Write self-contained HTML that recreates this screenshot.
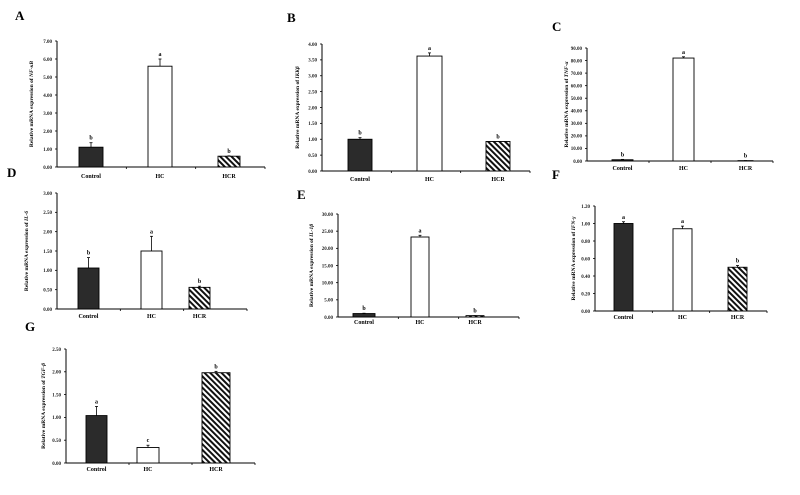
<!DOCTYPE html>
<html><head><meta charset="utf-8"><style>
html,body{margin:0;padding:0;background:#fff;}
svg{display:block;font-family:"Liberation Serif",serif;}
</style></head><body>
<svg id="s" width="800" height="495" viewBox="0 0 800 495" xmlns="http://www.w3.org/2000/svg">
<defs>
<pattern id="h" patternUnits="userSpaceOnUse" width="4" height="4" patternTransform="rotate(-45)">
<rect width="4" height="4" fill="#fff"/><rect width="2" height="4" fill="#111"/>
</pattern>
</defs>
</svg>
<script>
var P=[
{L:'A',lx:15,ly:20,ax:57,yt:41,y0:167,max:7,step:1,dec:2,xe:265,ty:33,tt:'NF-κB',cy:178,
 bars:[[79,103,1.1,0.25,'b'],[148,172,5.6,0.4,'a'],[218,240,0.6,0.02,'b']]},
{L:'B',lx:287,ly:22,ax:322,yt:44,y0:171,max:4,step:0.5,dec:2,xe:530,ty:299,tt:'IKKβ',cy:181,
 bars:[[348,372,1.0,0.05,'b'],[417,442,3.62,0.1,'a'],[486,510,0.93,0,'b']]},
{L:'C',lx:552,ly:31,ax:587,yt:48,y0:161,max:90,step:10,dec:2,xe:773,ty:568,tt:'TNF-α',cy:170,
 bars:[[612,633,1,0.3,'b'],[673,694,82,1,'a'],[738,753,0.3,0,'b']]},
{L:'D',lx:7,ly:177,ax:57,yt:193,y0:309,max:3,step:0.5,dec:2,xe:247,ty:28,tt:'IL-6',cy:318,
 bars:[[78,99,1.06,0.27,'b'],[141,162,1.5,0.38,'a'],[189,210,0.56,0.03,'b']]},
{L:'E',lx:297,ly:199,ax:338,yt:214,y0:317,max:30,step:5,dec:2,xe:519,ty:313,tt:'IL-1β',cy:324,
 bars:[[353,375,1,0.1,'b'],[411,429,23.3,0.5,'a'],[466,484,0.4,0,'b']]},
{L:'F',lx:552,ly:179,ax:595,yt:206,y0:311,max:1.2,step:0.2,dec:2,xe:767,ty:575,tt:'IFN-γ',cy:319,
 bars:[[614,633,1.0,0.02,'a'],[673,692,0.94,0.03,'a'],[728,747,0.5,0.02,'b']]},
{L:'G',lx:25,ly:331,ax:66,yt:349,y0:463,max:2.5,step:0.5,dec:2,xe:255,ty:45,tt:'TGF-β',cy:471,
 bars:[[86,107,1.04,0.2,'a'],[137,159,0.34,0.05,'c'],[202,230,1.98,0.03,'b']]}
];
var s='',cats=['Control','HC','HCR'];
P.forEach(function(p){
 var sc=(p.y0-p.yt)/p.max;
 s+='<text x="'+p.lx+'" y="'+p.ly+'" font-size="13" font-weight="bold">'+p.L+'</text>';
 s+='<line x1="'+p.ax+'" y1="'+p.yt+'" x2="'+p.ax+'" y2="'+p.y0+'" stroke="#000" stroke-width="1"/>';
 s+='<line x1="'+p.ax+'" y1="'+p.y0+'" x2="'+p.xe+'" y2="'+p.y0+'" stroke="#000" stroke-width="1"/>';
 for(var v=0;v<=p.max+1e-9;v+=p.step){
  var y=p.y0-v*sc;
  s+='<line x1="'+(p.ax-2)+'" y1="'+y+'" x2="'+p.ax+'" y2="'+y+'" stroke="#000" stroke-width="0.8"/>';
  s+='<text x="'+(p.ax-5)+'" y="'+(y+1.8)+'" font-size="5" font-weight="bold" text-anchor="end" fill="#222">'+v.toFixed(p.dec)+'</text>';
 }
 var w=(p.xe-p.ax)/3;
 for(var i=1;i<=3;i++){var x=p.ax+w*i;s+='<line x1="'+x+'" y1="'+p.y0+'" x2="'+x+'" y2="'+(p.y0+2)+'" stroke="#000" stroke-width="0.8"/>';}
 p.bars.forEach(function(b,i){
  var top=p.y0-b[2]*sc, fill=i==0?'#2b2b2b':(i==1?'#fff':'url(#h)');
  var cx=(b[0]+b[1])/2, et=top-b[3]*sc;
  s+='<line x1="'+cx+'" y1="'+top+'" x2="'+cx+'" y2="'+et+'" stroke="#000" stroke-width="0.8"/>';
  s+='<line x1="'+(cx-1.5)+'" y1="'+et+'" x2="'+(cx+1.5)+'" y2="'+et+'" stroke="#000" stroke-width="0.8"/>';
  s+='<rect x="'+b[0]+'" y="'+top+'" width="'+(b[1]-b[0])+'" height="'+(p.y0-top)+'" fill="'+fill+'" stroke="#000" stroke-width="0.9"/>';
  s+='<text x="'+cx+'" y="'+(et-3)+'" font-size="6" font-weight="bold" text-anchor="middle">'+b[4]+'</text>';
  s+='<text x="'+cx+'" y="'+p.cy+'" font-size="6" font-weight="bold" text-anchor="middle">'+cats[i]+'</text>';
 });
 var my=(p.yt+p.y0)/2;
 s+='<text transform="translate('+p.ty+','+my+') rotate(-90)" font-size="5.5" font-weight="bold" text-anchor="middle">Relative mRNA expression of <tspan font-style="italic">'+p.tt+'</tspan></text>';
});
document.getElementById('s').insertAdjacentHTML('beforeend',s);
</script>
</body></html>
